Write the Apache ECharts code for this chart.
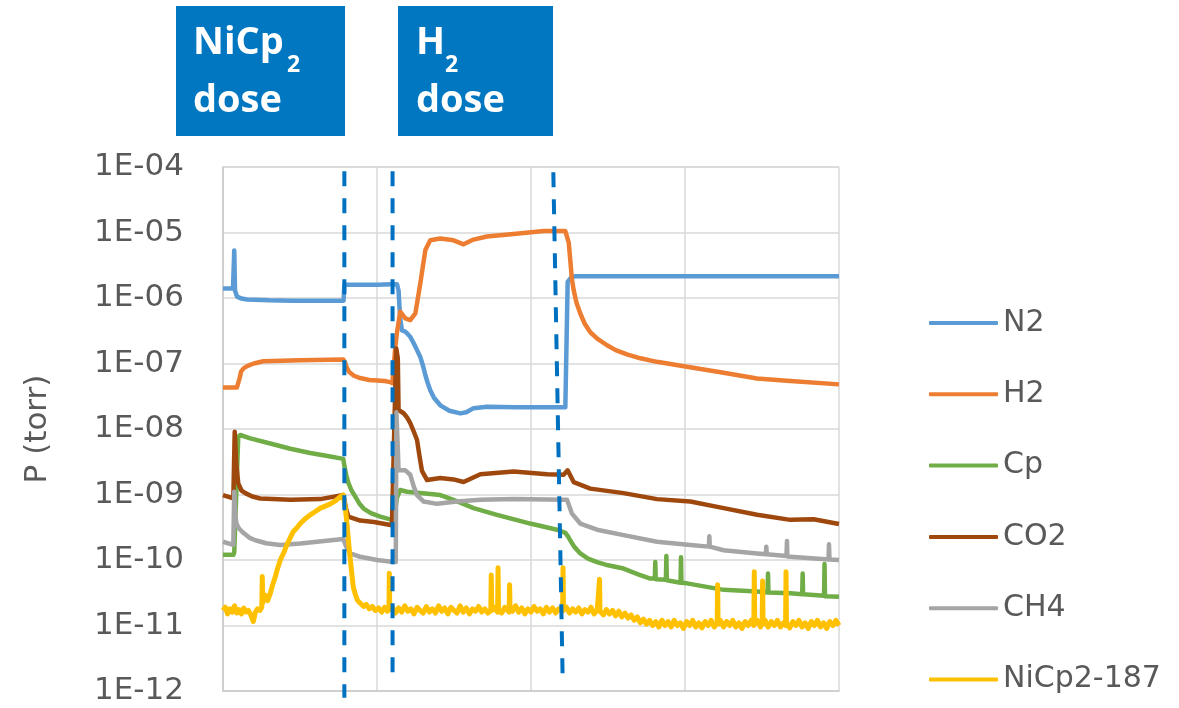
<!DOCTYPE html>
<html>
<head>
<meta charset="utf-8">
<script src="https://cdn.jsdelivr.net/npm/echarts@6/dist/echarts.min.js"></script>
<style>
html,body{margin:0;padding:0;background:#fff;}
#chart{width:1179px;height:708px;}
</style>
</head>
<body>
<div id="chart"></div>
<script>
// ---- data (x in arbitrary time units 0..400, y in torr) ----
const seriesNames = ['N2', 'H2', 'Cp', 'CO2', 'CH4', 'NiCp2-187'];
const seriesColors = ['#5B9BD5', '#ED7D31', '#70AD47', '#9E480E', '#A5A5A5', '#FFC000'];
const yTickLabels = ['1E-12','1E-11','1E-10','1E-09','1E-08','1E-07','1E-06','1E-05','1E-04'];

const n2 = [[0,1.4e-6],[6.5,1.4e-6],[7.0,1.45e-6],[7.3,5.3e-6],[7.8,1.3e-6],[9.1,1.05e-6],[12,9.8e-7],[15.6,9.5e-7],[30,9.2e-7],[45,9.1e-7],[46,8.8e-7],[50,9.1e-7],[60,9.1e-7],[78.3,9.1e-7],[78.8,1.6e-6],[90,1.6e-6],[100,1.6e-6],[110,1.62e-6],[113,1.62e-6],[114,1.3e-6],[115,5e-7],[116.2,3.2e-7],[118,3.1e-7],[119.5,2.9e-7],[121.6,2.55e-7],[124,2.0e-7],[126,1.6e-7],[128.1,1.26e-7],[130,9e-8],[131.5,6.5e-8],[133,5e-8],[134.6,3.9e-8],[137,3.0e-8],[141.1,2.3e-8],[147,1.9e-8],[154.1,1.73e-8],[158,1.8e-8],[162.7,2.08e-8],[171.4,2.18e-8],[190,2.15e-8],[210,2.15e-8],[222.3,2.15e-8],[223.4,2.2e-8],[223.8,1.76e-6],[226,2.05e-6],[228.8,2.15e-6],[260,2.15e-6],[300,2.15e-6],[350,2.15e-6],[400,2.15e-6]];

const h2 = [[0,4.3e-8],[9,4.3e-8],[10,4.6e-8],[10.8,6e-8],[11.8,7.6e-8],[13.5,8.5e-8],[16,9.2e-8],[20,1.0e-7],[26.2,1.08e-7],[50,1.12e-7],[78.1,1.15e-7],[79.2,1.05e-7],[80.5,8.5e-8],[82,7.4e-8],[85,6.5e-8],[89,6.0e-8],[95,5.6e-8],[105,5.4e-8],[108.6,5.2e-8],[110,5.0e-8],[111.9,1.8e-7],[113,3e-7],[115.1,6.2e-7],[116.5,5.6e-7],[118.4,4.9e-7],[121.6,4.6e-7],[124.9,5.8e-7],[128.1,1.66e-6],[131.4,5.4e-6],[134.6,7.6e-6],[141.1,8.1e-6],[149.7,7.6e-6],[156.2,6.6e-6],[162.7,7.8e-6],[171.4,8.7e-6],[188.7,9.5e-6],[208.2,1.05e-5],[222.3,1.05e-5],[223.4,1.0e-5],[224.5,7e-6],[225.5,3.8e-6],[226.5,2.0e-6],[227.7,1.32e-6],[229.5,8.5e-7],[232,5.8e-7],[235,4.0e-7],[238.5,3.0e-7],[243,2.4e-7],[249.4,1.9e-7],[255,1.6e-7],[262.3,1.38e-7],[271,1.2e-7],[281.8,1.06e-7],[301.3,8.9e-8],[325.1,7.2e-8],[346.8,5.9e-8],[368.4,5.4e-8],[400,4.8e-8]];

const cp = [[0,1.2e-10],[6.8,1.2e-10],[7.3,1.3e-10],[9.9,7.6e-9],[11.2,8.1e-9],[17.7,7.2e-9],[30.7,6.0e-9],[43.7,5.0e-9],[56.7,4.3e-9],[69.7,3.8e-9],[78.1,3.5e-9],[79,2.6e-9],[80,2.0e-9],[81.4,1.5e-9],[83.5,1.15e-9],[85.9,9.3e-10],[88.5,7.3e-10],[91.3,6.1e-10],[96,5.2e-10],[102.1,4.6e-10],[109.7,4.1e-10],[111,4.1e-10],[113,9e-10],[115.1,1.17e-9],[119.5,1.1e-9],[128.1,1.05e-9],[141.1,9.8e-10],[149.7,8.3e-10],[162.7,6.2e-10],[177.9,4.9e-10],[199.5,3.6e-10],[216.9,2.9e-10],[222.3,2.6e-10],[224,2.3e-10],[225.5,2.0e-10],[228,1.6e-10],[232,1.26e-10],[237,1.05e-10],[242.9,9.3e-11],[250,8.3e-11],[260.1,7.4e-11],[270,6.0e-11],[277.5,5.2e-11],[280.4,5.2e-11],[280.7,9.3e-11],[281,5.1e-11],[287.6,5e-11],[287.9,1.15e-10],[288.2,4.9e-11],[297.1,4.5e-11],[297.4,1.1e-10],[297.7,4.5e-11],[301.3,4.4e-11],[325.1,3.5e-11],[346.8,3.3e-11],[353.6,3.2e-11],[353.9,6.2e-11],[354.2,3.2e-11],[368.4,3.1e-11],[376.1,3.0e-11],[376.4,6.2e-11],[376.7,3.0e-11],[390.3,2.85e-11],[390.6,8.7e-11],[390.9,2.8e-11],[400,2.75e-11]];

const co2 = [[0,9.8e-10],[6.7,8.7e-10],[7.3,8.7e-10],[7.6,9.1e-9],[8.0,6e-9],[8.6,3e-9],[9.9,1.48e-9],[12,1.15e-9],[14.5,1.05e-9],[19,9.3e-10],[24.2,8.7e-10],[43.7,8.3e-10],[63.2,8.5e-10],[78.1,9.8e-10],[80,6e-10],[81.4,4.6e-10],[89.1,4.0e-10],[98,3.8e-10],[109.7,3.4e-10],[110.8,3.4e-10],[112.5,1.7e-7],[113.5,1.2e-7],[114,1.95e-8],[117.3,1.74e-8],[119.5,1.5e-8],[121.6,1.23e-8],[124,9e-9],[126,6.8e-9],[127.5,4e-9],[129.2,2.3e-9],[132.5,1.66e-9],[141.1,1.78e-9],[149.7,1.7e-9],[156.2,1.55e-9],[167.1,2.04e-9],[188.7,2.24e-9],[210.4,2.04e-9],[221.2,2.0e-9],[223.8,2.34e-9],[227.7,1.55e-9],[238.5,1.23e-9],[260.1,1.05e-9],[281.8,8.5e-10],[303.4,7.8e-10],[325.1,6.2e-10],[346.8,4.9e-10],[368.4,4.1e-10],[383.5,4.2e-10],[400,3.55e-10]];

const ch4 = [[0,1.9e-10],[6.7,1.7e-10],[7.3,1.1e-9],[8.0,5e-10],[8.7,3.6e-10],[10.5,3.0e-10],[13.2,2.6e-10],[17,2.2e-10],[21,2.0e-10],[28,1.8e-10],[37.2,1.7e-10],[50.2,1.78e-10],[78.1,2.1e-10],[80,1.6e-10],[82.7,1.26e-10],[89.1,1.12e-10],[100,1.0e-10],[110.8,9.3e-11],[112.2,9.3e-11],[112.6,1.8e-8],[113.4,6e-9],[114,2.34e-9],[118.4,2.34e-9],[121.6,2.0e-9],[124,1.3e-9],[126,9.8e-10],[130.3,7.8e-10],[139,7.2e-10],[151.9,7.8e-10],[167.1,8.3e-10],[188.7,8.5e-10],[221.2,8.3e-10],[223.4,8.3e-10],[226.6,5.1e-10],[232,3.6e-10],[242.9,2.9e-10],[260.1,2.4e-10],[281.8,1.9e-10],[303.4,1.7e-10],[315.5,1.6e-10],[315.8,2.3e-10],[316.1,1.6e-10],[325.1,1.41e-10],[346.8,1.26e-10],[352.5,1.22e-10],[352.8,1.6e-10],[353.1,1.22e-10],[365.9,1.15e-10],[366.2,1.95e-10],[366.5,1.13e-10],[368.4,1.12e-10],[393.2,1.02e-10],[393.5,1.74e-10],[393.8,1.02e-10],[400,1.0e-10]];

const nicp2 = [[0,1.7e-11],[1.5,1.9e-11],[3,1.5e-11],[4.5,1.8e-11],[6,1.6e-11],[7.5,2.0e-11],[9,1.55e-11],[10.5,1.75e-11],[12,1.5e-11],[13.5,1.85e-11],[15,1.6e-11],[16.5,1.7e-11],[18,1.45e-11],[19.7,1.15e-11],[21,1.6e-11],[22.5,1.8e-11],[24,1.7e-11],[25.2,1.9e-11],[25.5,5.6e-11],[25.8,2.2e-11],[27.5,2.9e-11],[29,2.4e-11],[30.7,3.1e-11],[32,4.0e-11],[34,5.6e-11],[35.5,7.5e-11],[37.2,1.0e-10],[39.5,1.3e-10],[41.8,1.78e-10],[43.7,2.2e-10],[45.6,2.7e-10],[48,3.1e-10],[50.2,3.6e-10],[53,4.2e-10],[56.7,4.9e-10],[60,5.5e-10],[63.2,6.2e-10],[66,6.6e-10],[69.7,7.2e-10],[73,8.0e-10],[76.2,9.3e-10],[78.1,9.8e-10],[79.5,6.0e-10],[80.7,3.2e-10],[81.7,1.7e-10],[82.7,1.0e-10],[83.7,6.0e-11],[84.6,3.9e-11],[85.9,3.0e-11],[87.2,2.45e-11],[89,2.2e-11],[91.3,1.95e-11],[93,2.1e-11],[95,1.8e-11],[97,1.95e-11],[98.9,1.7e-11],[101,1.85e-11],[103,1.6e-11],[105,1.9e-11],[106.7,1.65e-11],[107.8,1.8e-11],[108,6.3e-11],[108.3,1.75e-11],[110,1.9e-11],[112,1.55e-11],[114,1.85e-11],[116,1.6e-11],[118,2.0e-11],[120,1.65e-11],[122,1.8e-11],[124,1.5e-11],[126,1.9e-11],[128,1.7e-11],[130,1.55e-11],[132,1.95e-11],[134,1.6e-11],[136,1.8e-11],[138,1.55e-11],[140,2.0e-11],[142,1.65e-11],[144,1.85e-11],[146,1.5e-11],[148,1.9e-11],[150,1.7e-11],[152,1.55e-11],[154,2.0e-11],[156,1.6e-11],[158,1.85e-11],[160,1.5e-11],[162,1.8e-11],[164,1.65e-11],[166,1.95e-11],[168,1.6e-11],[170,1.8e-11],[172,1.55e-11],[173.9,1.7e-11],[174.2,5.9e-11],[174.5,1.7e-11],[176,1.9e-11],[178.3,1.6e-11],[178.6,7.6e-11],[178.9,1.75e-11],[181,1.55e-11],[183,1.9e-11],[185.8,1.6e-11],[186.1,4.2e-11],[186.4,1.8e-11],[188,1.65e-11],[190,2.0e-11],[192,1.6e-11],[194,1.85e-11],[196,1.5e-11],[198,1.8e-11],[200,1.6e-11],[202,1.95e-11],[204,1.65e-11],[206,1.8e-11],[208,1.5e-11],[210,1.9e-11],[212,1.6e-11],[214,1.85e-11],[216,1.55e-11],[218,1.8e-11],[220.5,1.65e-11],[220.8,7.6e-11],[221.1,1.7e-11],[223,1.9e-11],[225,1.55e-11],[227,1.8e-11],[229,1.6e-11],[231,1.85e-11],[233,1.5e-11],[235,1.75e-11],[237,1.6e-11],[239,1.9e-11],[241,1.5e-11],[243,1.7e-11],[244.2,1.6e-11],[244.5,5.1e-11],[244.8,1.65e-11],[247,1.45e-11],[249,1.75e-11],[251,1.5e-11],[253,1.7e-11],[255,1.4e-11],[257,1.65e-11],[259,1.35e-11],[261,1.55e-11],[263,1.3e-11],[265,1.45e-11],[267,1.2e-11],[269,1.35e-11],[271,1.1e-11],[273,1.25e-11],[275,1.05e-11],[277,1.2e-11],[279,1.0e-11],[281,1.15e-11],[283,0.95e-11],[285,1.2e-11],[287,1.0e-11],[289,1.15e-11],[291,0.95e-11],[293,1.2e-11],[295,1.0e-11],[297,1.1e-11],[299,0.9e-11],[301,1.15e-11],[303,1.0e-11],[305,1.2e-11],[307,0.95e-11],[309,1.1e-11],[311,0.92e-11],[313,1.15e-11],[315,1.0e-11],[317,1.2e-11],[319,0.95e-11],[320.9,1.1e-11],[321.2,4.2e-11],[321.5,1.05e-11],[323,1.2e-11],[325,0.95e-11],[327,1.15e-11],[329,1.0e-11],[331,1.2e-11],[333,0.95e-11],[335,1.1e-11],[337,0.9e-11],[339,1.15e-11],[341,1.0e-11],[343,1.2e-11],[344.7,1.0e-11],[345,6.6e-11],[345.3,1.05e-11],[347,1.2e-11],[349,0.95e-11],[350.1,1.1e-11],[350.4,4.8e-11],[350.7,1.05e-11],[352,1.2e-11],[354,0.95e-11],[356,1.15e-11],[358,1.0e-11],[360,1.2e-11],[362,0.95e-11],[364,1.1e-11],[365.3,1.0e-11],[365.6,6.6e-11],[365.9,1.1e-11],[368,0.92e-11],[370,1.15e-11],[372,1.0e-11],[374,1.2e-11],[376,0.95e-11],[378,1.1e-11],[380,0.9e-11],[382,1.15e-11],[384,1.0e-11],[386,1.2e-11],[388,0.95e-11],[390,1.1e-11],[392,0.9e-11],[394,1.15e-11],[396,1.0e-11],[398,1.2e-11],[400,1.0e-11]];

// dashed dose-marker lines: [xTop, yTop, xBottom, yBottom] in data units
const doseLines = [[78.8, 8.6e-5, 78.8, 7.9e-13], [110.1, 8.6e-5, 110.1, 1.38e-12], [214.5, 8.3e-5, 220.6, 1.38e-12]];
// dose labels: [main, subscript, second line]
const doseLabels = [['NiCp', '2', 'dose'], ['H', '2', 'dose']];

const allData = [n2, h2, cp, co2, ch4, nicp2];

// ---- chart ----
const chart = echarts.init(document.getElementById('chart'), null, {renderer: 'canvas'});
const FONT = 'DejaVu Sans';

const option = {
  animation: false,
  backgroundColor: '#ffffff',
  grid: {left: 223, right: 340, top: 167, bottom: 17, containLabel: false},
  xAxis: {
    type: 'value', min: 0, max: 400, interval: 100,
    axisLabel: {show: false}, axisTick: {show: false},
    axisLine: {show: true, lineStyle: {color: '#C9C9C9', width: 1.5}},
    splitLine: {show: true, lineStyle: {color: '#D9D9D9', width: 1.5}}
  },
  yAxis: {
    type: 'log', logBase: 10, min: 1e-12, max: 1e-4,
    name: 'P (torr)', nameLocation: 'middle', nameGap: 170,
    nameTextStyle: {fontFamily: FONT, fontSize: 31, color: '#595959'},
    axisLine: {show: true, lineStyle: {color: '#C9C9C9', width: 1.5}},
    axisTick: {show: false},
    splitLine: {show: true, lineStyle: {color: '#D9D9D9', width: 1.5}},
    axisLabel: {
      fontFamily: FONT, fontSize: 31, color: '#595959', margin: 39,
      formatter: function (v) {
        const e = Math.round(Math.log10(v));
        return yTickLabels[e + 12];
      }
    }
  },
  legend: {
    orient: 'vertical', left: 924, top: 300,
    itemWidth: 69, itemHeight: 4, itemGap: 35.3, icon: 'roundRect',
    textStyle: {fontFamily: FONT, fontSize: 30, color: '#595959', lineHeight: 36},
    data: seriesNames
  },
  series: seriesNames.map((name, i) => ({
    name: name, type: 'line', data: allData[i],
    showSymbol: false, symbol: 'none',
    lineStyle: {color: seriesColors[i], width: i === 5 ? 5 : 4.5, join: 'round'},
    itemStyle: {color: seriesColors[i]},
    z: 2 + i
  }))
};
chart.setOption(option);

// dashed dose lines and dose label boxes
const graphics = [];
doseLines.forEach(function (d) {
  const p1 = chart.convertToPixel({gridIndex: 0}, [d[0], d[1]]);
  const p2 = chart.convertToPixel({gridIndex: 0}, [d[2], d[3]]);
  graphics.push({
    type: 'line', z: 100,
    shape: {x1: p1[0], y1: p1[1], x2: p2[0], y2: p2[1]},
    style: {stroke: '#0070C0', lineWidth: 4, lineDash: [15, 12]}
  });
});
const boxes = [{x: 176, w: 169, tx: 193}, {x: 398, w: 155, tx: 416}];
doseLabels.forEach(function (lab, i) {
  const b = boxes[i];
  graphics.push({type: 'rect', z: 100, shape: {x: b.x, y: 6, width: b.w, height: 130}, style: {fill: '#0077C0'}});
  graphics.push({type: 'text', z: 101, x: b.tx, y: 24, style: {text: lab[0], fill: '#fff', font: 'bold 38px "Open Sans"', verticalAlign: 'top'}});
  graphics.push({type: 'text', z: 101, x: b.tx + (i === 0 ? 94 : 29), y: 54, style: {text: lab[1], fill: '#fff', font: 'bold 23px "Open Sans"', verticalAlign: 'top'}});
  graphics.push({type: 'text', z: 101, x: b.tx, y: 82, style: {text: lab[2], fill: '#fff', font: 'bold 38px "Open Sans"', verticalAlign: 'top'}});
});
chart.setOption({graphic: graphics});
</script>
</body>
</html>
